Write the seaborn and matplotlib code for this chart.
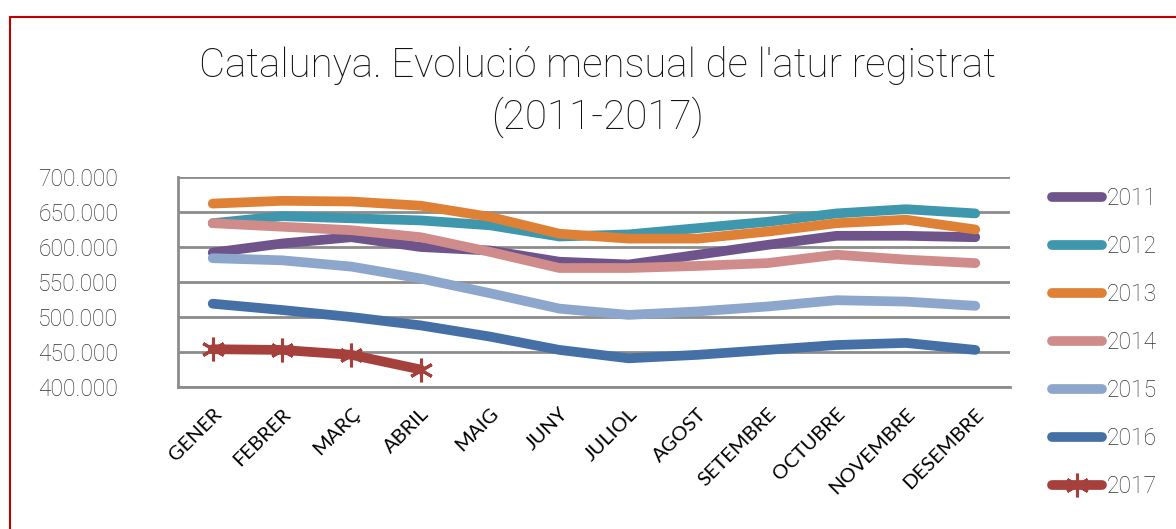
import pandas as pd
import matplotlib.pyplot as plt
import matplotlib.ticker as mticker
from matplotlib.lines import Line2D
import seaborn as sns

months = ["GENER", "FEBRER", "MARÇ", "ABRIL", "MAIG", "JUNY", "JULIOL",
          "AGOST", "SETEMBRE", "OCTUBRE", "NOVEMBRE", "DESEMBRE"]

atur_2011 = [592000, 605000, 614000, 600000, 595000, 579000, 575000, 589000, 603000, 616000, 616000, 614000]
atur_2012 = [634000, 644000, 641000, 638000, 631000, 615000, 618000, 627000, 636000, 648000, 654000, 648000]
atur_2013 = [662000, 666000, 665000, 659000, 643000, 619000, 612000, 612000, 622000, 634000, 639000, 625000]
atur_2014 = [634000, 629000, 624000, 614000, 593000, 570000, 570000, 573000, 577000, 589000, 582000, 577000]
atur_2015 = [584000, 581000, 572000, 555000, 534000, 512000, 503000, 508000, 515000, 524000, 522000, 516000]
atur_2016 = [519000, 510000, 500000, 488000, 472000, 453000, 441000, 446000, 453000, 460000, 463000, 453000]
atur_2017 = [454000, 453000, 446000, 425000]

series = {
    "2011": atur_2011, "2012": atur_2012, "2013": atur_2013, "2014": atur_2014,
    "2015": atur_2015, "2016": atur_2016, "2017": atur_2017,
}
colors = {
    "2011": "#6f548c", "2012": "#3f97ad", "2013": "#de8136", "2014": "#d08b8b",
    "2015": "#8ca6cc", "2016": "#4470a6", "2017": "#a6403c",
}

rows = []
for year, vals in series.items():
    for m, v in zip(months, vals):
        rows.append({"Mes": m, "Any": year, "Atur": v})
df = pd.DataFrame(rows)

sns.set_theme(style="white")
thin = ["Roboto", "DejaVu Sans"]
label_font = ["Lato", "DejaVu Sans"]

fig = plt.figure(figsize=(11.76, 5.29), dpi=100)
ax = fig.add_axes([0.1514, 0.2684, 0.7074, 0.397])

star = (6, 2, 0)
for year in series:
    sub = df[df["Any"] == year]
    is_last = year == "2017"
    sns.lineplot(data=sub, x="Mes", y="Atur", ax=ax, color=colors[year],
                 linewidth=7, solid_capstyle="round", sort=False,
                 marker=star if is_last else None,
                 markersize=17, markeredgewidth=2.2,
                 markeredgecolor=colors[year], legend=False)

ax.set_ylim(400000, 700000)
ax.set_xlim(-0.5, 11.5)
ax.set_yticks(range(400000, 700001, 50000))
ax.yaxis.set_major_formatter(mticker.FuncFormatter(lambda v, p: f"{int(v):,}".replace(",", ".")))
ax.yaxis.grid(True, color="#8c8c8c", linewidth=2)
ax.set_axisbelow(True)
for s in ["top", "right"]:
    ax.spines[s].set_visible(False)
for s in ["left", "bottom"]:
    ax.spines[s].set_color("#8c8c8c")
    ax.spines[s].set_linewidth(2)
ax.set_xlabel("")
ax.set_ylabel("")
ax.tick_params(axis="y", length=0, pad=43, labelsize=16.5, labelcolor="#333333")
ax.tick_params(axis="x", length=0, pad=13)
for t in ax.get_yticklabels():
    t.set_family(thin)
    t.set_fontweight("light")
ax.set_xticks(range(len(months)))
ax.set_xticklabels(months, rotation=45, ha="right", rotation_mode="anchor",
                   fontsize=14.5, family=label_font, color="black")

handles = [Line2D([0], [0], color=colors[y], linewidth=7, solid_capstyle="round",
                  marker=star if y == "2017" else None, markersize=17,
                  markeredgewidth=2.2, markeredgecolor=colors[y]) for y in series]
fig.legend(handles, list(series.keys()), loc="upper left",
           bbox_to_anchor=(0.877, 0.685), frameon=False, handlelength=2.2,
           handletextpad=0.2, labelspacing=1.09,
           prop={"family": thin, "size": 16.5, "weight": "light"},
           labelcolor="#333333")

fig.text(0.508, 0.877, "Catalunya. Evolució mensual de l'atur registrat",
         ha="center", va="center", fontsize=29, family=thin, fontweight="light",
         color="#111111")
fig.text(0.508, 0.779, "(2011-2017)", ha="center", va="center",
         fontsize=29, family=thin, fontweight="light", color="#111111")

# border of the chart box
fig.add_artist(Line2D([0.0085, 1.0], [0.968, 0.968], color="#c00000", linewidth=1.5,
                      transform=fig.transFigure))
fig.add_artist(Line2D([0.0085, 0.0085], [0.0, 0.968], color="#c00000", linewidth=1.5,
                      transform=fig.transFigure))

fig.savefig("out.png", dpi=100)
